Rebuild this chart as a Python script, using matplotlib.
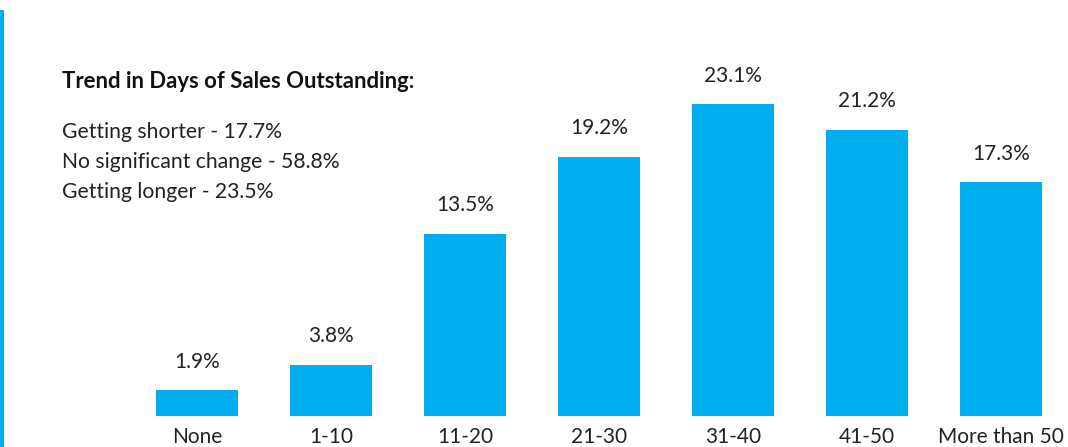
import matplotlib
matplotlib.use("Agg")
import matplotlib.pyplot as plt
from matplotlib.patches import Rectangle

categories = ["None", "1-10", "11-20", "21-30", "31-40", "41-50", "More than 50"]
values = [1.9, 3.8, 13.5, 19.2, 23.1, 21.2, 17.3]
value_labels = ["1.9%", "3.8%", "13.5%", "19.2%", "23.1%", "21.2%", "17.3%"]
title = "Trend in Days of Sales Outstanding:"
trend_lines = ["Getting shorter - 17.7%", "No significant change - 58.8%", "Getting longer - 23.5%"]

BLUE = "#00AEEF"
TEXT = "#222222"
plt.rcParams["font.family"] = ["Lato", "DejaVu Sans"]

W, H = 1068, 447
fig = plt.figure(figsize=(W / 100, H / 100), dpi=100)
fig.patch.set_facecolor("white")

base_px = 416
ax = fig.add_axes([0, (H - base_px) / H, 1, base_px / H])
ax.set_facecolor("none")
px_per_unit = 134
x0 = 197
ax.set_xlim(-x0 / px_per_unit, (W - x0) / px_per_unit)
ax.set_ylim(0, base_px / 13.5)

xs = list(range(len(categories)))
ax.bar(xs, values, width=82 / px_per_unit, color=BLUE)
for x, v, lab in zip(xs, values, value_labels):
    ax.annotate(lab, (x, v), xytext=(0, 20.5), textcoords="offset points",
                ha="center", va="center", fontsize=15, color=TEXT, fontweight="normal")

ax.set_xticks(xs)
ax.set_xticklabels(categories, fontsize=15, color=TEXT, fontweight="normal")
ax.tick_params(axis="x", length=0, pad=8)
ax.tick_params(axis="y", left=False, labelleft=False)
for s in ax.spines.values():
    s.set_visible(False)

fig.text(62 / W, 1 - 82 / H, title, fontsize=15.9, fontweight="bold", color="#111111",
         ha="left", va="center")
for i, line in enumerate(trend_lines):
    fig.text(62 / W, 1 - (132 + 30 * i) / H, line, fontsize=15.2, color=TEXT,
             fontweight="normal", ha="left", va="center")

fig.patches.append(Rectangle((0, 0), 4 / W, 1 - 10 / H, transform=fig.transFigure,
                             facecolor=BLUE, edgecolor="none"))

fig.savefig("out.png", dpi=100)
